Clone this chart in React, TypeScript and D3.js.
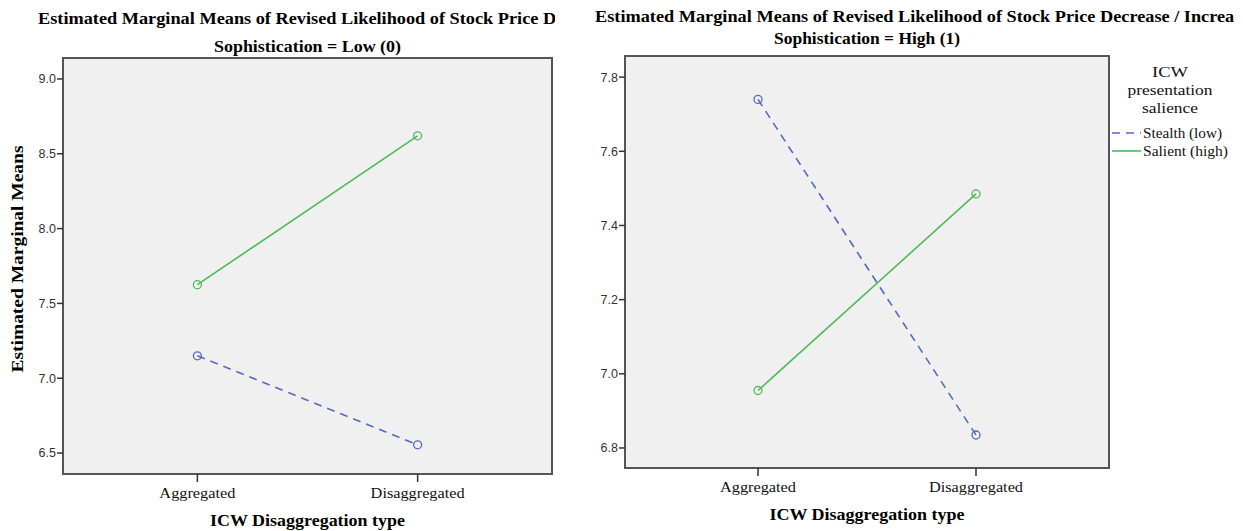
import React from "react";
import * as d3 from "d3";

const categories = ["Aggregated", "Disaggregated"];
const seriesNames = ["Stealth (low)", "Salient (high)"];
const lowStealth = [7.15, 6.555];
const lowSalient = [7.625, 8.62];
const highStealth = [7.74, 6.835];
const highSalient = [6.955, 7.485];
const lowTicks = [6.5, 7.0, 7.5, 8.0, 8.5, 9.0];
const highTicks = [6.8, 7.0, 7.2, 7.4, 7.6, 7.8];
const titleText = "Estimated Marginal Means of Revised Likelihood of Stock Price Decrease / Increase";
const legendTitle = ["ICW", "presentation", "salience"];

const BLUE = "#5468c4";
const GREEN = "#4dbb5b";
const SERIF = "'Liberation Serif', 'DejaVu Serif', serif";
const SANS = "'Liberation Sans', Arial, sans-serif";

const catWidth: Record<string, number> = { Aggregated: 76, Disaggregated: 94 };

type PanelProps = {
  x0: number; x1: number; y0: number; y1: number;
  domain: [number, number];
  ticks: number[];
  stealth: number[];
  salient: number[];
  subtitle: string;
  subW: number;
  subY: number;
  titleX: number; titleY: number; clipRight: number;
  labelY: number; axisTitleY: number;
  id: string;
};

function Panel(p: PanelProps) {
  const x = d3.scalePoint<string>().domain(categories).range([p.x0, p.x1]).padding(0.61);
  const y = d3.scaleLinear().domain(p.domain).range([p.y1, p.y0]);
  const line = d3.line<number>().x((_, i) => x(categories[i]) as number).y((d) => y(d));
  const series = [
    { name: seriesNames[0], vals: p.stealth, color: BLUE, dash: "8,6" },
    { name: seriesNames[1], vals: p.salient, color: GREEN, dash: undefined },
  ];
  const cx = (p.x0 + p.x1) / 2;
  return (
    <g>
      <defs>
        <clipPath id={"clip" + p.id}>
          <rect x={0} y={0} width={p.clipRight} height={40} />
        </clipPath>
      </defs>
      <text clipPath={`url(#clip${p.id})`} x={p.titleX} y={p.titleY} fontFamily={SERIF} fontWeight="bold" fontSize={16}
        textLength={titleText.length * 8.08} lengthAdjust="spacingAndGlyphs">{titleText}</text>
      <text x={cx} y={p.subY} textAnchor="middle" fontFamily={SERIF} fontWeight="bold" fontSize={16}
        textLength={p.subW} lengthAdjust="spacingAndGlyphs">{p.subtitle}</text>
      <rect x={p.x0} y={p.y0} width={p.x1 - p.x0} height={p.y1 - p.y0} fill="#f0f0f0" stroke="#555" strokeWidth={2} />
      {p.ticks.map((t) => (
        <g key={t}>
          <line x1={p.x0 - 6} x2={p.x0} y1={y(t)} y2={y(t)} stroke="#333" strokeWidth={1.5} />
          <text x={p.x0 - 7} y={y(t)} dy="0.35em" textAnchor="end" fontFamily={SANS} fontSize={12.5} fill="#333">{t.toFixed(1)}</text>
        </g>
      ))}
      {categories.map((c) => (
        <g key={c}>
          <line x1={x(c)} x2={x(c)} y1={p.y1} y2={p.y1 + 8} stroke="#333" strokeWidth={1.5} />
          <text x={x(c)} y={p.labelY} textAnchor="middle" fontFamily={SERIF} fontSize={15} fill="#111"
            textLength={catWidth[c]} lengthAdjust="spacingAndGlyphs">{c}</text>
        </g>
      ))}
      <text x={cx} y={p.axisTitleY} textAnchor="middle" fontFamily={SERIF} fontWeight="bold" fontSize={16}
        textLength={195} lengthAdjust="spacingAndGlyphs">ICW Disaggregation type</text>
      {series.map((s) => (
        <g key={s.name}>
          <path d={line(s.vals) || ""} fill="none" stroke={s.color} strokeWidth={1.6} strokeDasharray={s.dash} />
          {s.vals.map((v, i) => (
            <circle key={i} cx={x(categories[i])} cy={y(v)} r={4} fill="none" stroke={s.color} strokeWidth={1.3} />
          ))}
        </g>
      ))}
    </g>
  );
}

export default function App() {
  const legendW = [36, 85, 56];
  return (
    <div style={{ position: "absolute", left: 0, top: 0 }}>
      <svg width={1243} height={531} style={{ display: "block", background: "#fff" }}>
        <Panel id="L" x0={63} x1={552} y0={58} y1={474} domain={[6.36, 9.14]} ticks={lowTicks}
          stealth={lowStealth} salient={lowSalient} subtitle="Sophistication = Low (0)" subW={187} subY={52}
          titleX={38} titleY={24} clipRight={555} labelY={498} axisTitleY={526} />
        <Panel id="R" x0={625} x1={1109} y0={56} y1={468} domain={[6.746, 7.857]} ticks={highTicks}
          stealth={highStealth} salient={highSalient} subtitle="Sophistication = High (1)" subW={186} subY={44}
          titleX={595} titleY={22} clipRight={1234} labelY={492} axisTitleY={520} />
        <text transform="translate(23,259) rotate(-90)" textAnchor="middle" fontFamily={SERIF} fontWeight="bold" fontSize={16}
          textLength={227} lengthAdjust="spacingAndGlyphs">Estimated Marginal Means</text>
        <g fontFamily={SERIF} fontSize={15} fill="#111" textAnchor="middle">
          {legendTitle.map((t, i) => (
            <text key={t} x={1170} y={77 + i * 18} textLength={legendW[i]} lengthAdjust="spacingAndGlyphs">{t}</text>
          ))}
        </g>
        <line x1={1112} x2={1141} y1={133} y2={133} stroke={BLUE} strokeWidth={1.6} strokeDasharray="8,6" />
        <line x1={1112} x2={1141} y1={151} y2={151} stroke={GREEN} strokeWidth={1.6} />
        <text x={1143} y={138} fontFamily={SERIF} fontSize={14} fill="#111" textLength={79} lengthAdjust="spacingAndGlyphs">{seriesNames[0]}</text>
        <text x={1143} y={156} fontFamily={SERIF} fontSize={14} fill="#111" textLength={85} lengthAdjust="spacingAndGlyphs">{seriesNames[1]}</text>
      </svg>
    </div>
  );
}
